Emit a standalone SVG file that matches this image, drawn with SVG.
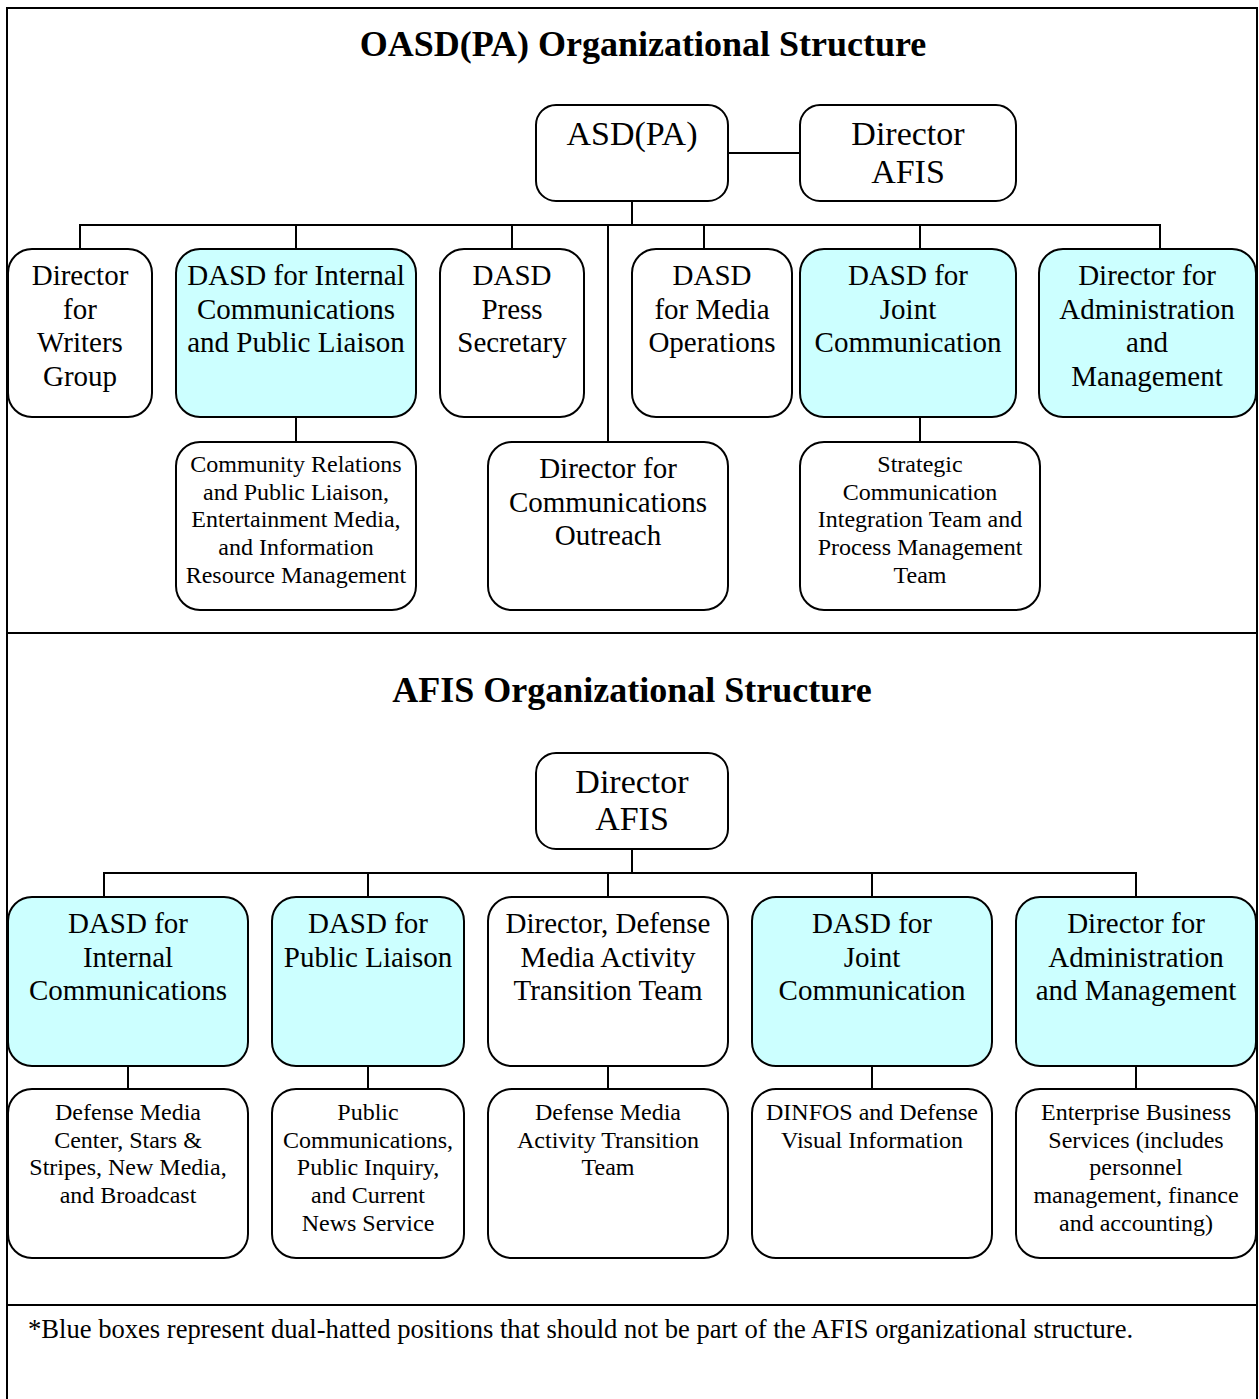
<svg xmlns="http://www.w3.org/2000/svg" width="1259" height="1399" viewBox="0 0 1259 1399">
<style>
.box{fill:#fff;stroke:#000;stroke-width:2}
.blue{fill:#ccffff;stroke:#000;stroke-width:2}
.t{text-anchor:middle;fill:#000}
.top{font-size:34px}
.big{font-size:29px}
.sm{font-size:24px}
.title{font-size:36px;font-weight:bold}
.ln{fill:none;stroke:#000;stroke-width:2}
</style>
<rect width="1259" height="1399" fill="#fff"/>
<g id="frame">
<path class="ln" d="M7 1399 V8 H1257 V1399"/>
<path class="ln" d="M7 633 H1257 M7 1305 H1257"/>
</g>
<g font-family="Liberation Serif, Times New Roman, serif">
<text class="t title" x="643" y="56">OASD(PA) Organizational Structure</text>
<text class="t title" x="632" y="702">AFIS Organizational Structure</text>
<g id="connectors">
<path class="ln" d="M728 153 H800 M632 201 V225 M80 249 V225 H1160 V249 M296 225 V249 M512 225 V249 M704 225 V249 M920 225 V249 M608 225 V442 M296 417 V442 M920 417 V442"/>
<path class="ln" d="M632 849 V873 M104 897 V873 H1136 V897 M368 873 V897 M608 873 V897 M872 873 V897 M128 1066 V1089 M368 1066 V1089 M608 1066 V1089 M872 1066 V1089 M1136 1066 V1089"/>
</g>
<g id="asdpa"><rect class="box" x="536" y="105" width="192" height="96" rx="20"/><text class="t top" x="632" y="145">ASD(PA)</text></g>
<g id="director-afis-1"><rect class="box" x="800" y="105" width="216" height="96" rx="20"/><text class="t top" x="908" y="145">Director</text><text class="t top" x="908" y="183">AFIS</text></g>
<g id="writers"><rect class="box" x="8" y="249" width="144" height="168" rx="24"/><text class="t big" x="80" y="285">Director</text><text class="t big" x="80" y="318.5">for</text><text class="t big" x="80" y="352">Writers</text><text class="t big" x="80" y="385.5">Group</text></g>
<g id="dasd-icpl"><rect class="blue" x="176" y="249" width="240" height="168" rx="24"/><text class="t big" x="296" y="285">DASD for Internal</text><text class="t big" x="296" y="318.5">Communications</text><text class="t big" x="296" y="352">and Public Liaison</text></g>
<g id="press"><rect class="box" x="440" y="249" width="144" height="168" rx="24"/><text class="t big" x="512" y="285">DASD</text><text class="t big" x="512" y="318.5">Press</text><text class="t big" x="512" y="352">Secretary</text></g>
<g id="media-ops"><rect class="box" x="632" y="249" width="160" height="168" rx="24"/><text class="t big" x="712" y="285">DASD</text><text class="t big" x="712" y="318.5">for Media</text><text class="t big" x="712" y="352">Operations</text></g>
<g id="joint-1"><rect class="blue" x="800" y="249" width="216" height="168" rx="24"/><text class="t big" x="908" y="285">DASD for</text><text class="t big" x="908" y="318.5">Joint</text><text class="t big" x="908" y="352">Communication</text></g>
<g id="admin-1"><rect class="blue" x="1039" y="249" width="217" height="168" rx="24"/><text class="t big" x="1147" y="285">Director for</text><text class="t big" x="1147" y="318.5">Administration</text><text class="t big" x="1147" y="352">and</text><text class="t big" x="1147" y="385.5">Management</text></g>
<g id="community"><rect class="box" x="176" y="442" width="240" height="168" rx="24"/><text class="t sm" x="296" y="472">Community Relations</text><text class="t sm" x="296" y="499.7">and Public Liaison,</text><text class="t sm" x="296" y="527.4">Entertainment Media,</text><text class="t sm" x="296" y="555.1">and Information</text><text class="t sm" x="296" y="582.8">Resource Management</text></g>
<g id="outreach"><rect class="box" x="488" y="442" width="240" height="168" rx="24"/><text class="t big" x="608" y="478">Director for</text><text class="t big" x="608" y="511.5">Communications</text><text class="t big" x="608" y="545">Outreach</text></g>
<g id="strategic"><rect class="box" x="800" y="442" width="240" height="168" rx="24"/><text class="t sm" x="920" y="472">Strategic</text><text class="t sm" x="920" y="499.7">Communication</text><text class="t sm" x="920" y="527.4">Integration Team and</text><text class="t sm" x="920" y="555.1">Process Management</text><text class="t sm" x="920" y="582.8">Team</text></g>
<g id="director-afis-2"><rect class="box" x="536" y="753" width="192" height="96" rx="20"/><text class="t top" x="632" y="793">Director</text><text class="t top" x="632" y="830">AFIS</text></g>
<g id="internal-2"><rect class="blue" x="8" y="897" width="240" height="169" rx="24"/><text class="t big" x="128" y="933">DASD for</text><text class="t big" x="128" y="966.5">Internal</text><text class="t big" x="128" y="1000">Communications</text></g>
<g id="public-liaison"><rect class="blue" x="272" y="897" width="192" height="169" rx="24"/><text class="t big" x="368" y="933">DASD for</text><text class="t big" x="368" y="966.5">Public Liaison</text></g>
<g id="dma-team"><rect class="box" x="488" y="897" width="240" height="169" rx="24"/><text class="t big" x="608" y="933">Director, Defense</text><text class="t big" x="608" y="966.5">Media Activity</text><text class="t big" x="608" y="1000">Transition Team</text></g>
<g id="joint-2"><rect class="blue" x="752" y="897" width="240" height="169" rx="24"/><text class="t big" x="872" y="933">DASD for</text><text class="t big" x="872" y="966.5">Joint</text><text class="t big" x="872" y="1000">Communication</text></g>
<g id="admin-2"><rect class="blue" x="1016" y="897" width="240" height="169" rx="24"/><text class="t big" x="1136" y="933">Director for</text><text class="t big" x="1136" y="966.5">Administration</text><text class="t big" x="1136" y="1000">and Management</text></g>
<g id="dmc"><rect class="box" x="8" y="1089" width="240" height="169" rx="24"/><text class="t sm" x="128" y="1120">Defense Media</text><text class="t sm" x="128" y="1147.7">Center, Stars &amp;</text><text class="t sm" x="128" y="1175.4">Stripes, New Media,</text><text class="t sm" x="128" y="1203.1">and Broadcast</text></g>
<g id="pubcomm"><rect class="box" x="272" y="1089" width="192" height="169" rx="24"/><text class="t sm" x="368" y="1120">Public</text><text class="t sm" x="368" y="1147.7">Communications,</text><text class="t sm" x="368" y="1175.4">Public Inquiry,</text><text class="t sm" x="368" y="1203.1">and Current</text><text class="t sm" x="368" y="1230.8">News Service</text></g>
<g id="dma-team-2"><rect class="box" x="488" y="1089" width="240" height="169" rx="24"/><text class="t sm" x="608" y="1120">Defense Media</text><text class="t sm" x="608" y="1147.7">Activity Transition</text><text class="t sm" x="608" y="1175.4">Team</text></g>
<g id="dinfos"><rect class="box" x="752" y="1089" width="240" height="169" rx="24"/><text class="t sm" x="872" y="1120">DINFOS and Defense</text><text class="t sm" x="872" y="1147.7">Visual Information</text></g>
<g id="ebs"><rect class="box" x="1016" y="1089" width="240" height="169" rx="24"/><text class="t sm" x="1136" y="1120">Enterprise Business</text><text class="t sm" x="1136" y="1147.7">Services (includes</text><text class="t sm" x="1136" y="1175.4">personnel</text><text class="t sm" x="1136" y="1203.1">management, finance</text><text class="t sm" x="1136" y="1230.8">and accounting)</text></g>
<text x="28" y="1338" font-size="26.6" fill="#000">*Blue boxes represent dual-hatted positions that should not be part of the AFIS organizational structure.</text>
</g>
</svg>
